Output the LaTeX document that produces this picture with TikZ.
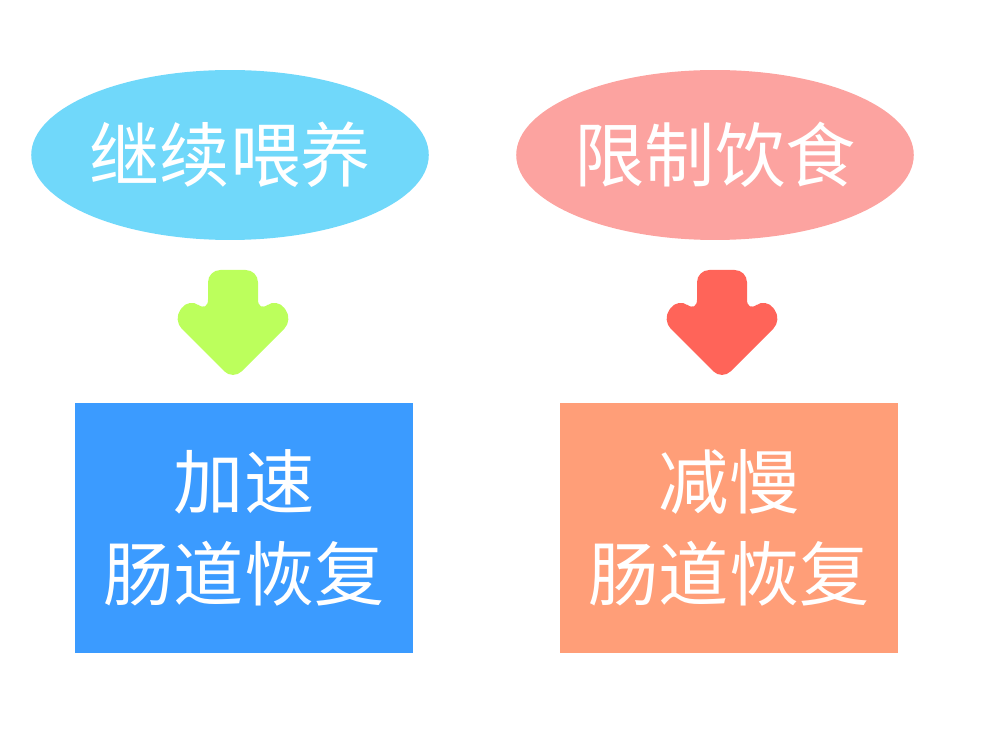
\documentclass[tikz,border=0pt]{standalone}
\usepackage{fontspec}
\setmainfont{Noto Sans CJK SC}
\usetikzlibrary{shapes.geometric}
\definecolor{skyfill}{HTML}{70D8FA}
\definecolor{pinkfill}{HTML}{FCA3A0}
\definecolor{limefill}{HTML}{BCFF5C}
\definecolor{redfill}{HTML}{FF6459}
\definecolor{bluefill}{HTML}{3B9BFF}
\definecolor{orangefill}{HTML}{FF9E78}
\tikzset{
  oval/.style={ellipse, minimum width=7.3cm, minimum height=3.4cm, inner sep=0pt, text=white, font=\fontsize{40}{48}\selectfont},
  panel/.style={rectangle, minimum width=6.76cm, minimum height=5.02cm, inner sep=0pt, text=white, align=center, font=\fontsize{40}{52}\selectfont}
}
\newcommand{\downarrowshape}[2]{%
  \fill[#2, rounded corners=7pt] (#1-25,270) -- (#1+25,270) -- (#1+25,312) -- (#1+44,298)
    -- (#1+60,320) -- (#1,380) -- (#1-60,320) -- (#1-44,298) -- (#1-25,312) -- cycle;}
\begin{document}
\begin{tikzpicture}[x=0.02cm, y=-0.02cm]
\useasboundingbox (0,0) rectangle (990,756);

\node [oval, fill=skyfill] (feed) at (230,155) {继续喂养};
\node [oval, fill=pinkfill] (limit) at (715,155) {限制饮食};

\downarrowshape{233}{limefill}
\downarrowshape{722}{redfill}

\node [panel, fill=bluefill] (fast) at (244,528) {加速\\肠道恢复};
\node [panel, fill=orangefill] (slow) at (729,528) {减慢\\肠道恢复};
\end{tikzpicture}
\end{document}
